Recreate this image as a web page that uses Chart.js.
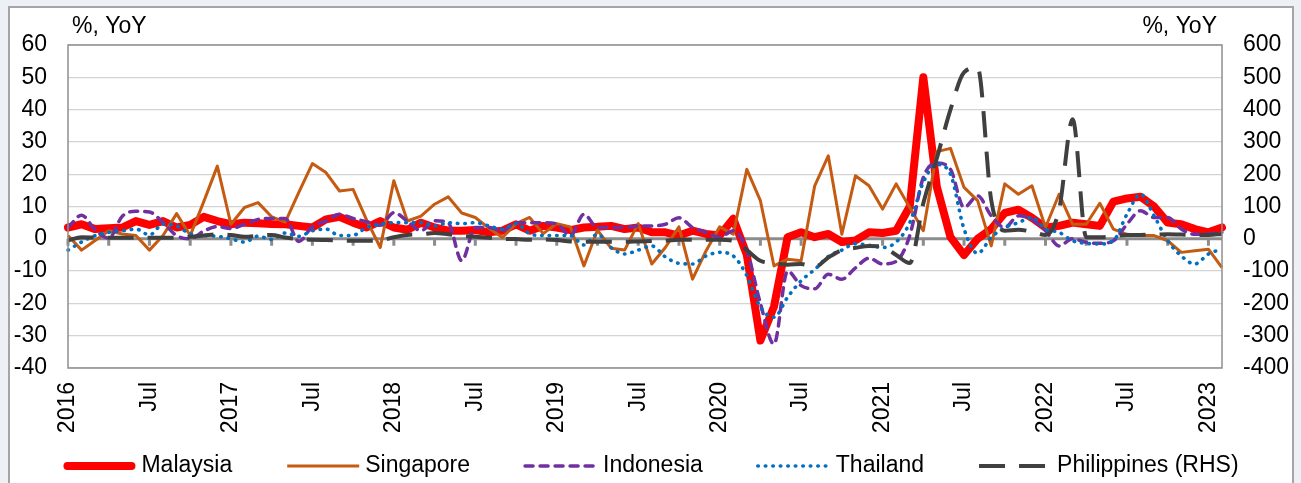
<!DOCTYPE html>
<html>
<head>
<meta charset="utf-8">
<title>ASEAN exports, % YoY</title>
<script src="https://cdn.jsdelivr.net/npm/chart.js@4.4.1/dist/chart.umd.min.js"></script>
<style>
  html, body { margin: 0; overflow: hidden; background: #edf0f4; }
  #frame { position: absolute; left: 8px; top: 6px; width: 1282px; height: 520px; border: 2px solid #a5a5a5; background: #fff; }
  #box { position: relative; width: 1282px; height: 477px; }
</style>
</head>
<body>
<div id="frame"><div id="box"><canvas id="exportsChart"></canvas></div></div>
<script>
// monthly, Jan 2016 .. Feb 2023
var startYear = 2016;
var monthCount = 86;
var months = [];
for (var i = 0; i < monthCount; i++) {
  var m = i % 12 + 1;
  months.push((startYear + Math.floor(i / 12)) + "-" + (m < 10 ? "0" + m : m));
}

var leftTicks = [-40, -30, -20, -10, 0, 10, 20, 30, 40, 50, 60];
var rightTicks = [-400, -300, -200, -100, 0, 100, 200, 300, 400, 500, 600];
var unitLabel = "%, YoY";

var malaysia = [
  3.5, 4.5, 3, 3.3, 3.5, 5.5, 4.3, 5.5, 3.5, 4.3, 6.8, 5.5,
  4.5, 5, 4.8, 4.6, 4.5, 4, 3.5, 6, 6.8, 5, 3.5, 5.5,
  3.5, 2.8, 5, 3.5, 2.5, 2.5, 2.7, 2, 2.5, 4.5, 2.5, 4,
  3.5, 2.7, 3.5, 3.7, 4, 3, 3.5, 2, 2, 1, 2.5, 1.5,
  1, 6.2, -5, -31.5, -21, 0.5, 2, 0.5, 1.5, -1, -0.5, 2,
  1.8, 2.5, 10, 50, 16, 0.5, -5, 0, 3, 8, 9, 6.5,
  3.5, 4, 5, 4.5, 4, 11.5, 12.5, 13, 10, 5, 4.5, 3,
  2, 3.5
];
var singapore = [
  1, -3.5, -0.5, 2.5, 1.5, 1, -3.5, 1, 7.8, 1, 11.5, 22.5,
  4.5, 9.7, 11.2, 6.8, 5.2, 14.4, 23.3, 20.5, 14.8, 15.3, 5.8, -2.7,
  18, 5.5, 7, 10.7, 13, 8, 6.6, 3.3, 0.4, 4.7, 6.6, 1.6,
  4.7, 3.7, -8.4, 2.7, -2.9, -3.5, 4.7, -7.8, -2.7, 3.7, -12.5, -3.7,
  3.7, 1.4, 21.5, 11.8, -8.4, -6.3, -6.8, 16.4, 25.7, 1.4, 19.5, 16.4,
  9.2, 17, 9.7, 2.5, 27, 28, 15.9, 11.8, -2.2, 17, 13.8, 16.4,
  3.5, 13.8, 4.5, 4.5, 11, 3, 1.4, 1, 1, -0.6, -4.2, -3.7,
  -3.2, -8.9
];
var indonesia = [
  3.5, 7.3, 2.8, 0.2, 7, 8.5, 8.3, 5, 1, 0, 2.4, 3.8,
  3.2, 4.5, 6, 6.3, 6.3, -0.8, 3.8, 5.5, 7.6, 6.3, 5.3, 4.2,
  8.1, 5.5, 2.5, 5.6, 5, -6.8, 3.5, 3.5, 2.5, 5, 5, 5,
  4.6, 1, 7.6, 3.5, 3.5, 3.5, 4, 4, 4.5, 6.5, 3.5, 2,
  0.5, 2.5, -3.7, -20, -32.6, -10, -14.5, -15.5, -11, -12.5, -9, -6,
  -7.8, -7, 1, 19, 23.5, 21.5, 9.7, 13.3, 7.1, 3.5, 7.1, 6,
  2.5, -2.2, 0, -1.1, -1.4, -0.6, 4.5, 8.7, 6.6, 6.6, 3, 1.4,
  1.5, 2
];
var thailand = [
  -3.5, -1, 1, 2, 2.5, 3, 1.2, 4.5, 4, 1.5, 1, 0.8,
  0, -1, 0.8, -0.2, 1.8, 0.8, 2.5, 3, 1, 1.1, 3.5, 4.5,
  5, 5, 5, 4, 5, 4.7, 5, 4, 3, 4.7, 1.6, 1,
  1, 1, -1.9, 1.4, -2.7, -4.7, -3.5, -2.2, -5.6, -7.6, -7.8, -5.3,
  -4.2, -5.3, -11.4, -21.2, -24.3, -18.1, -13, -9.5, -5.5, -3.5, -1.5, -2,
  -2.7, -1, 5, 17.5, 23, 20, 3, -4.5, 0.4, 3.5, 5, 6.6,
  3, 2, -0.6, -1.4, -1.6, -0.6, 7.6, 13.8, 7.1, -0.6, -5.3, -7.8,
  -4.7, -3.2
];
// right-hand scale
var philippines = [
  -5, 5, 4, 3, 3, 3, 3, 3, 3, 6, 10, 14,
  12, 6, 9, 12, 4, -1, -3, -4, -5, -6, -6, -5,
  5, 12, 14, 18, 14, 9, 6, 3, 0, -1, -3, -2,
  -4, -8, -9, -9, -9, -9, -8, -7, -6, -3, -3, -3,
  -3, -6, -35, -68, -75, -80, -78, -87, -58, -35, -28, -22,
  -25, -50, -75, 110, 250, 400, 515, 530, 120, 25, 28, 22,
  12, 90, 370, 5, 5, 8, 12, 12, 13, 14, 13, 12,
  12, 15
];

var fontFamily = '"Liberation Sans", Arial, sans-serif';
Chart.defaults.font.family = fontFamily;
Chart.defaults.color = "#000";

// zero axis with month ticks, plot box, unit labels and the legend row
var chartFrame = {
  id: "chartFrame",
  beforeDatasetsDraw: function(chart) {
    var ctx = chart.ctx;
    var area = chart.chartArea;
    var xs = chart.scales.x;
    var y0 = chart.scales.y.getPixelForValue(0);
    ctx.save();
    ctx.strokeStyle = "#8c8c8c";
    ctx.lineWidth = 3;
    ctx.beginPath();
    ctx.moveTo(area.left, y0);
    ctx.lineTo(area.right, y0);
    for (var i = 0; i < months.length; i += 3) {
      var px = xs.getPixelForValue(i);
      ctx.moveTo(px, y0);
      ctx.lineTo(px, y0 + 7);
    }
    ctx.stroke();
    ctx.restore();
  },
  afterDraw: function(chart) {
    var ctx = chart.ctx;
    var area = chart.chartArea;
    ctx.save();
    ctx.strokeStyle = "#8f8f8f";
    ctx.lineWidth = 1.5;
    ctx.strokeRect(area.left, area.top, area.right - area.left, area.bottom - area.top);

    ctx.fillStyle = "#000";
    ctx.font = "23px " + fontFamily;
    ctx.textBaseline = "middle";
    ctx.textAlign = "left";
    ctx.fillText(unitLabel, area.left + 4, area.top - 18);
    ctx.textAlign = "right";
    ctx.fillText(unitLabel, area.right - 5, area.top - 18);

    var ds = chart.data.datasets;
    var sample = 72, textGap = 6, itemGap = 55;
    ctx.textAlign = "left";
    var total = itemGap * (ds.length - 1);
    var widths = ds.map(function(d) { return ctx.measureText(d.label).width; });
    widths.forEach(function(w) { total += sample + textGap + w; });
    var x = chart.width / 2 - total / 2;
    var y = chart.height - 19;
    ds.forEach(function(d, k) {
      ctx.save();
      ctx.strokeStyle = d.borderColor;
      ctx.lineWidth = d.borderWidth;
      ctx.lineCap = d.borderCapStyle || "butt";
      ctx.setLineDash(d.borderDash || []);
      var inset = ctx.lineCap === "round" && !d.borderDash ? d.borderWidth / 2 : 0;
      ctx.beginPath();
      ctx.moveTo(x + inset, y);
      ctx.lineTo(x + sample - inset, y);
      ctx.stroke();
      ctx.restore();
      ctx.fillText(d.label, x + sample + textGap, y);
      x += sample + textGap + widths[k] + itemGap;
    });
    ctx.restore();
  }
};

new Chart("exportsChart", {
  type: "line",
  data: {
    labels: months,
    datasets: [{
      label: "Malaysia",
      data: malaysia,
      borderColor: "#ff0000",
      borderWidth: 8,
      borderCapStyle: "round",
      borderJoinStyle: "round",
      order: 5
    }, {
      label: "Singapore",
      data: singapore,
      borderColor: "#c55a11",
      borderWidth: 3,
      borderJoinStyle: "round",
      order: 4
    }, {
      label: "Indonesia",
      data: indonesia,
      borderColor: "#7030a0",
      borderWidth: 3.5,
      borderDash: [8, 7],
      borderCapStyle: "round",
      cubicInterpolationMode: "monotone",
      order: 3
    }, {
      label: "Thailand",
      data: thailand,
      borderColor: "#0070c0",
      borderWidth: 3.6,
      borderDash: [0.5, 7],
      borderCapStyle: "round",
      cubicInterpolationMode: "monotone",
      order: 2
    }, {
      label: "Philippines (RHS)",
      data: philippines,
      yAxisID: "y1",
      borderColor: "#404040",
      borderWidth: 4,
      borderDash: [26, 14],
      cubicInterpolationMode: "monotone",
      order: 1
    }]
  },
  options: {
    animation: false,
    responsive: true,
    maintainAspectRatio: false,
    devicePixelRatio: 1,
    elements: { point: { radius: 0, hoverRadius: 0 } },
    layout: { padding: { top: 37, left: 0, right: 0, bottom: 37 } },
    plugins: {
      legend: { display: false },
      tooltip: { enabled: false }
    },
    scales: {
      x: {
        grid: { display: false, drawTicks: false },
        border: { display: false },
        afterFit: function(s) { s.height = 80; },
        ticks: {
          autoSkip: false,
          minRotation: 90,
          maxRotation: 90,
          padding: 14,
          font: { size: 23 },
          callback: function(value) {
            var parts = months[value].split("-");
            if (parts[1] === "01") return parts[0];
            if (parts[1] === "07") return "Jul";
            return "";
          }
        }
      },
      y: {
        position: "left",
        min: leftTicks[0],
        max: leftTicks[leftTicks.length - 1],
        afterFit: function(s) { s.width = 58; },
        afterBuildTicks: function(s) { s.ticks = leftTicks.map(function(v) { return { value: v }; }); },
        border: { display: false },
        grid: {
          drawTicks: false,
          lineWidth: 1.3,
          color: function(c) { return c.tick && c.tick.value === 0 ? "rgba(0,0,0,0)" : "#d4d4d4"; }
        },
        ticks: { padding: 21, font: { size: 23 } }
      },
      y1: {
        position: "right",
        min: rightTicks[0],
        max: rightTicks[rightTicks.length - 1],
        afterFit: function(s) { s.width = 70; },
        afterBuildTicks: function(s) { s.ticks = rightTicks.map(function(v) { return { value: v }; }); },
        border: { display: false },
        grid: { drawOnChartArea: false, drawTicks: false },
        ticks: { padding: 21, font: { size: 23 } }
      }
    }
  },
  plugins: [chartFrame]
});
</script>
</body>
</html>
